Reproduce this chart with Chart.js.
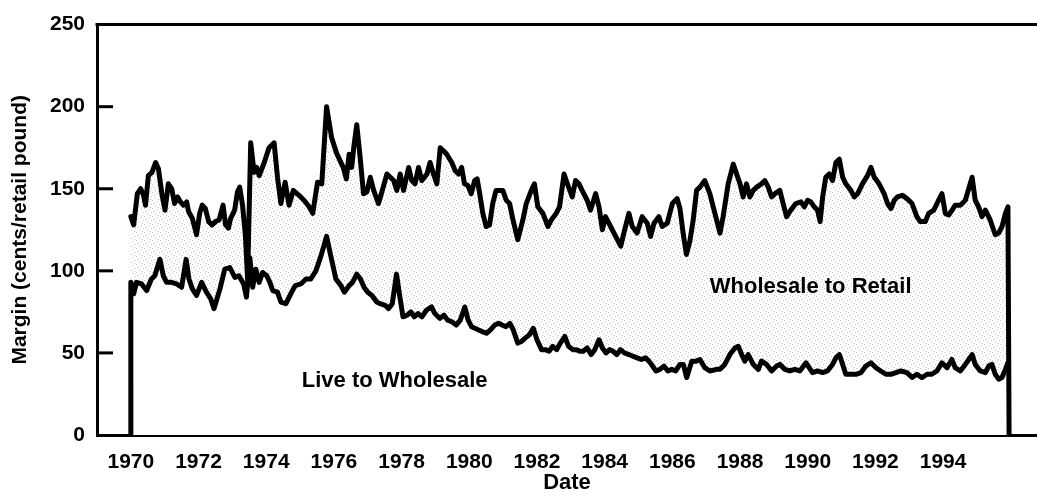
<!DOCTYPE html>
<html><head><meta charset="utf-8">
<script src="https://cdn.jsdelivr.net/npm/chart.js@4.4.1/dist/chart.umd.min.js"></script>
<style>html,body{margin:0;padding:0;background:#fff;}#wrap{width:1037px;height:493px;}</style>
</head><body><div id="wrap"><canvas id="c" width="1037" height="493"></canvas></div>
<script>
// x values are months since January 1970
const upperMonths = [0,1,2.3,3.5,4.5,5.2,6.2,7.5,8.8,9.8,11,12.1,13.3,14.5,15.5,16.6,17.6,18.7,19.8,20.5,21.8,23.3,24.4,25.3,26.4,27.6,28.8,30,31.3,32.7,33.6,34.6,35.4,36.8,37.8,38.6,39.6,40.6,41.4,42.5,43.7,44.6,45.5,47.3,49,50.8,52,53.2,54.7,56.1,57.6,59.6,61.4,63.2,64.5,66.2,67.7,69.4,71.2,72.9,74.2,75.3,76.4,77.4,78.3,79.1,80.1,81.2,82.5,83.7,84.9,86.1,87.8,89,90.8,92,93.2,94.3,95.5,96.7,98.5,99.6,100.8,102,103.2,105,106.1,107.3,108.5,109.7,110.9,112,113.8,115,116.2,117.3,118.3,119.5,120.7,121.9,122.8,123.6,124.8,126,127.2,128.3,129.5,130.7,131.9,133.1,134.3,135.5,137.2,139,140.2,142,143.1,144.3,146.1,147.9,149.1,150.8,152,153.6,155,156.5,157.7,158.9,160,161.8,163,164.8,166,167.2,168.3,170.1,171.9,173.7,174.8,176.6,177.8,179.5,181.3,183.1,184.3,185.5,187.2,188.4,190.2,192,193.7,194.7,195.9,197,198.2,199.4,200.6,201.8,203.5,205.3,206.5,207.7,208.9,210,211.8,213.6,214.8,216,217.1,218.3,219.5,220.7,221.9,223.6,224.8,226,227.2,228.4,230.1,231.3,232.5,234,235.8,237.6,238.8,240,241.1,242.3,243.5,244.4,245.3,246.4,247.6,248.8,250,251.2,252.4,253.5,255.3,256.5,257.7,259.4,261.2,262.4,263.6,265.3,267.1,268.3,269.5,270.7,271.8,273.6,275.2,277,278.7,279.9,281.7,282.9,284.7,286.4,287.6,288.8,290,291.2,292.3,294.1,295.9,297.1,298.3,299.4,300.6,301.8,303,304.7,306.5,307.7,308.9,310.1,311,311.4];
const upperValues = [133,128,147,150,146,140,158,160,166,162,147,137,153,150,141,145,142,140,142,136,132,122,135,140,138,130,128,130,131,140,128,126,132,137,148,151,140,122,95,178,160,163,158,166,175,178,157,141,154,140,149,146,143,139,135,154,153,200,181,172,167,163,156,171,163,176,189,171,147,148,157,149,141,148,159,157,155,149,159,149,163,155,153,163,155,159,166,159,153,175,173,171,166,161,159,163,153,152,147,155,156,148,135,127,128,141,149,149,149,143,141,131,119,131,141,149,153,139,135,127,131,135,139,159,152,145,155,153,149,143,137,147,139,125,133,127,121,115,123,135,127,123,133,129,121,129,133,127,129,141,144,138,122,110,118,131,149,151,155,147,139,131,123,133,153,165,159,153,145,153,145,149,151,153,155,151,145,147,149,141,133,137,141,142,139,143,142,139,137,130,145,157,159,155,166,168,157,153,149,145,147,153,158,163,157,153,147,141,138,143,145,146,144,141,133,130,130,135,137,143,147,135,134,137,140,140,143,150,157,143,139,133,137,131,122,123,127,135,139,0];
const lowerMonths = [0,0,1,2,3.8,5.6,7.3,8.5,10.3,11.5,12.7,14.4,16.2,18,19.6,20.6,21.8,23.3,25.1,26.8,28.3,29.5,31.6,33.3,35.1,36.9,38.3,40,41,42.2,43.2,44.3,45.5,46.7,48.2,49.3,50.3,52,53.2,55,56.7,58.3,60.3,62.1,63.8,65.6,67.4,69.4,70.9,72.7,74.5,75.7,77.4,78.6,80.1,81.4,82.7,84,85.5,87.2,88.4,90.2,91.4,92.7,94.2,95.3,96.5,98,99.3,100.5,101.8,103.2,104.8,106.6,107.8,109.6,111,112.3,113.8,115.4,116.8,118.4,119.6,120.8,122,123.3,124.6,126.1,127.5,129,130.4,131.6,133,134.4,135.6,137.2,138.5,139.8,141.3,142.7,144,145.6,147,148.3,149.6,151,152.3,153.9,155.2,156.7,158,159.2,160.4,161.8,163.2,164.5,166,167.2,168.5,169.8,171,172.3,173.6,175,176.6,178,179.5,181,182.5,183.7,185,186.2,187.6,189,190.4,191.8,193.2,194.7,195.9,197.1,198.9,200.4,201.8,203.5,205.3,207.7,208.9,210.6,212.4,214.2,215.4,216.6,217.7,218.9,220.7,222.5,223.6,225.4,227.2,229,230.1,231.9,233.7,235.4,237.2,239.4,240.5,241.7,243.5,245.3,247,248.8,250,251.2,252.4,253.5,255.3,257.1,258.9,260.6,262.4,264.2,265.9,267.7,269.5,271.3,273,275.2,277,278.7,280.5,282.3,284,285.8,287.6,289.4,291.1,292.3,294.1,295.9,297.1,298.3,299.4,301.2,303,304.2,305.3,306.5,307.7,308.9,310.1,311];
const lowerValues = [0,93,86,93,92,88,95,97,107,97,93,93,92,90,107,95,89,85,93,87,83,77,89,101,102,96,97,92,84,108,90,101,93,99,97,93,88,87,81,80,86,91,92,95,95,100,109,121,109,95,91,87,91,93,98,95,90,87,85,81,80,79,77,80,98,85,72,73,75,72,74,72,76,78,74,71,73,70,69,67,70,78,70,66,65,64,63,62,64,67,68,67,66,68,64,56,57,59,61,65,58,52,52,51,54,52,56,60,54,52,52,51,51,53,49,52,58,53,50,52,51,49,52,50,49,48,47,46,47,45,42,39,40,42,39,40,39,43,43,35,45,45,46,41,39,40,40,43,49,53,54,49,45,49,43,40,45,43,39,42,43,40,39,40,39,44,41,38,39,38,39,43,47,49,43,37,37,37,38,42,44,41,39,37,37,38,39,38,35,37,35,37,37,39,44,41,46,41,39,43,46,49,43,39,38,42,43,37,34,35,40,44];
const tickYears = [1970,1972,1974,1976,1978,1980,1982,1984,1986,1988,1990,1992,1994];
const tickLabels = ['1970','1972','1974','1976','1978','1980','1982','1984','1986','1988','1990','1992','1994'];
const yTickValues = [0,50,100,150,200,250];
const seriesNames = ['Live to Wholesale','Wholesale to Retail'];

const FONT = "'Liberation Sans', Arial, Helvetica, sans-serif";
function pts(xs, ys){ return xs.map((x,i)=>({x:x, y:ys[i]})); }

// sparse stipple pattern for the band between the lines
const pc = document.createElement('canvas'); pc.width = 8; pc.height = 8;
const pg = pc.getContext('2d');
pg.fillStyle = '#ffffff'; pg.fillRect(0,0,8,8);
pg.fillStyle = '#c6c6c6';
[[0,0],[5,1],[2,3],[7,4],[3,6],[6,7]].forEach(p=>pg.fillRect(p[0],p[1],1,1));
const stipple = pg.createPattern(pc,'repeat');

const decor = {
  id:'decor',
  afterDraw(chart){
    const ctx = chart.ctx, a = chart.chartArea, ys = chart.scales.y, xs = chart.scales.x;
    ctx.save();
    ctx.strokeStyle = '#000'; ctx.lineWidth = 3; ctx.lineCap = 'butt';
    ctx.beginPath(); ctx.moveTo(a.left-1.5, a.top); ctx.lineTo(a.right, a.top); ctx.stroke();
    yTickValues.forEach(v=>{
      if (v===0 || v===250) return;
      const y = ys.getPixelForValue(v);
      ctx.beginPath(); ctx.moveTo(a.left, y); ctx.lineTo(a.left+16, y); ctx.stroke();
    });
    ctx.fillStyle = '#000';
    ctx.font = 'bold 22px ' + FONT;
    ctx.textAlign = 'left'; ctx.textBaseline = 'middle';
    ctx.fillText(seriesNames[1], xs.getPixelForValue(205.3), ys.getPixelForValue(90));
    ctx.fillText(seriesNames[0], xs.getPixelForValue(60.6), ys.getPixelForValue(33));
    ctx.restore();
  }
};

new Chart(document.getElementById('c'), {
  type:'line',
  data:{ datasets:[
    { label: seriesNames[0], data: pts(lowerMonths, lowerValues), borderColor:'#000', borderWidth:5,
      pointRadius:0, tension:0, fill:'origin', backgroundColor:'#ffffff', borderJoinStyle:'round', borderCapStyle:'round' },
    { label: 'Total', data: pts(upperMonths, upperValues), borderColor:'#000', borderWidth:5,
      pointRadius:0, tension:0, fill:'origin', backgroundColor: stipple, borderJoinStyle:'round', borderCapStyle:'round' }
  ]},
  options:{
    responsive:false, animation:false, devicePixelRatio:1,
    layout:{ padding:{ top:17, right:0, left:0, bottom:0 } },
    plugins:{ legend:{display:false}, tooltip:{enabled:false}, filler:{ drawTime:'beforeDatasetsDraw' } },
    scales:{
      x:{ type:'linear', min:-12, max:321.3,
        afterFit(s){ s.height = 58; },
        afterBuildTicks(s){ s.ticks = tickYears.map(y=>({value:(y-1970)*12})); },
        grid:{ display:false, drawTicks:false },
        border:{ display:true, color:'#000', width:3 },
        ticks:{ autoSkip:false, maxRotation:0, color:'#000', padding:15,
          font:{ family:FONT, size:21, weight:'bold' },
          callback(v, i){ return tickLabels[i]; } },
        title:{ display:true, text:'Date', color:'#000', padding:{top:0,bottom:-3},
          font:{ family:FONT, size:22, weight:'bold' } }
      },
      y:{ min:0, max:250,
        afterFit(s){ s.width = 97; },
        afterBuildTicks(s){ s.ticks = yTickValues.map(v=>({value:v})); },
        grid:{ display:false, drawTicks:false },
        border:{ display:true, color:'#000', width:3 },
        ticks:{ color:'#000', padding:12, font:{ family:FONT, size:21, weight:'bold' } },
        title:{ display:true, text:'Margin (cents/retail pound)', color:'#000', padding:{top:8,bottom:0},
          font:{ family:FONT, size:21, weight:'bold' } }
      }
    }
  },
  plugins:[decor]
});
</script></body></html>
